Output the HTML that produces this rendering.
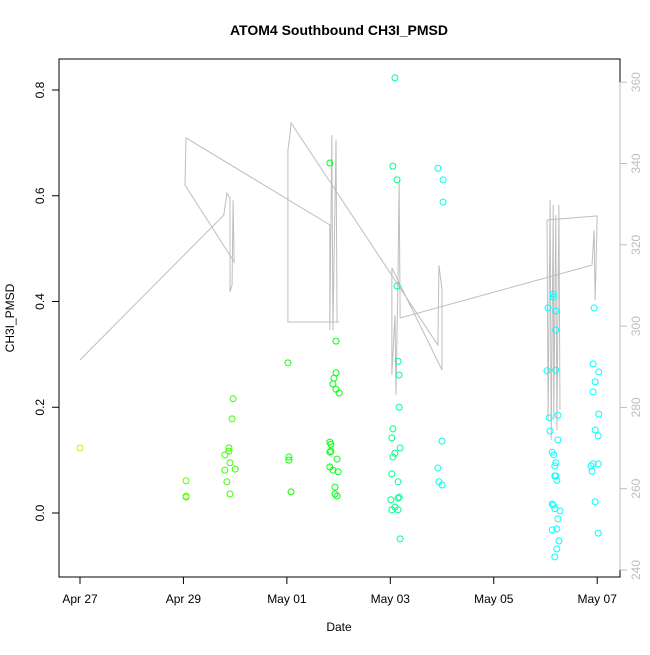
<!DOCTYPE html>
<html><head><meta charset="utf-8"><style>body{margin:0;background:#fff}svg{font-family:"Liberation Sans",sans-serif}</style></head>
<body>
<svg id="chart" width="650" height="650" viewBox="0 0 650 650">
<rect width="650" height="650" fill="#fff"/>
<text x="339" y="35" text-anchor="middle" font-weight="bold" font-size="14">ATOM4 Southbound CH3I_PMSD</text>
<text x="339" y="631" text-anchor="middle" font-size="12">Date</text>
<text transform="translate(14,318) rotate(-90)" text-anchor="middle" font-size="12">CH3I_PMSD</text>
<rect x="59" y="59" width="561" height="518" fill="none" stroke="#000"/>
<g id="lineG"></g>
<g id="ptsG"></g>
<g id="axes"></g>
</svg>
<script>
const xTickLabels=["Apr 27","Apr 29","May 01","May 03","May 05","May 07"];
const xTickDays=[0,2,4,6,8,10];
const yTicks=[0,0.2,0.4,0.6,0.8];
const y2Ticks=[240,260,280,300,320,340,360];
const pointDays=[0,2.05,2.05,2.05,2.96,2.94,2.80,2.88,2.88,2.90,2.80,3.00,2.84,2.90,4.02,4.04,4.04,4.08,
4.83,4.95,4.95,4.91,4.89,4.95,5.01,4.83,4.85,4.83,4.85,4.97,4.83,4.89,4.99,4.93,4.93,4.97,
6.09,6.05,6.13,6.13,6.15,6.17,6.17,6.05,6.03,6.19,6.09,6.05,6.03,6.15,6.17,6.15,6.01,6.09,6.03,6.15,6.19,
6.92,7.02,7.02,7.00,6.92,6.94,7.00,
9.15,9.15,9.05,9.20,9.20,9.03,9.20,9.07,9.09,9.24,9.24,9.13,9.16,9.20,9.18,9.18,9.20,9.22,9.13,9.15,9.18,9.28,9.24,9.13,9.22,9.26,9.22,9.18,
9.94,9.92,10.03,9.96,9.92,10.03,9.96,10.02,9.92,9.88,10.02,9.90,9.96,10.02];
const pointValues=[0.123,0.061,0.032,0.030,0.216,0.178,0.110,0.123,0.117,0.095,0.081,0.083,0.059,0.036,0.284,0.106,0.100,0.040,
0.662,0.325,0.265,0.255,0.244,0.234,0.227,0.134,0.130,0.115,0.117,0.102,0.087,0.081,0.078,0.049,0.036,0.032,
0.823,0.656,0.630,0.429,0.287,0.261,0.200,0.159,0.142,0.123,0.113,0.106,0.074,0.059,0.030,0.028,0.025,0.011,0.006,0.006,-0.049,
0.652,0.630,0.588,0.136,0.085,0.059,0.053,
0.414,0.408,0.388,0.382,0.346,0.269,0.270,0.180,0.155,0.185,0.138,0.115,0.110,0.095,0.089,0.070,0.070,0.062,0.017,0.015,0.008,0.004,-0.011,-0.032,-0.030,-0.053,-0.068,-0.083,
0.388,0.282,0.267,0.248,0.229,0.187,0.157,0.146,0.093,0.089,0.093,0.079,0.021,-0.038];
const lineDays=[0,2.78,2.84,2.90,2.90,2.94,2.96,2.98,2.03,2.05,4.83,4.83,4.87,4.89,4.95,4.97,5.01,4.02,4.02,4.06,4.08,6.92,6.94,7.00,7.00,6.03,6.03,6.09,6.11,6.15,6.17,6.19,9.90,9.94,9.96,10.00,9.03,9.05,9.09,9.11,9.15,9.16,9.20,9.22,9.26,9.28];
const lineValues=[291.7,327.3,332.7,331.5,308.4,310.1,331.0,315.8,334.7,346.3,324.9,299.0,347.0,299.0,345.8,301.0,301.0,301.0,343.3,347.0,350.0,295.3,315.0,308.9,289.2,314.3,288.0,302.7,283.1,313.8,335.9,302.0,315.0,323.6,306.4,327.1,326.1,276.9,331.0,272.0,329.8,276.9,327.3,274.4,329.8,279.4];
const NS="http://www.w3.org/2000/svg";
const xs=d=>80+d*51.72, ys=v=>513-v*528.75, y2s=v=>570-(v-240)*4.065;
const hue=d=>d<5?80+9*d:Math.min(180,125+25*(d-5));
function mk(t,a,p){const e=document.createElementNS(NS,t);for(const k in a)e.setAttribute(k,a[k]);p.appendChild(e);return e;}
const lg=document.getElementById('lineG');
const pl=mk('polyline',{points:lineDays.map((d,i)=>xs(d)+','+y2s(lineValues[i])).join(' '),fill:'none',stroke:'#bebebe','stroke-width':1},lg);


const pg=document.getElementById('ptsG');
pointDays.forEach((d,i)=>{const c=mk('circle',{cx:xs(d),cy:ys(pointValues[i]),r:3,fill:'none',stroke:'hsl('+hue(d)+',100%,50%)','stroke-width':1},pg);

});
const ax=document.getElementById('axes');
mk('line',{x1:xs(0),x2:xs(10),y1:577,y2:577,stroke:'#000'},ax);
xTickDays.forEach((d,i)=>{mk('line',{x1:xs(d),x2:xs(d),y1:577,y2:584,stroke:'#000'},ax);
const t=mk('text',{x:xs(d),y:603,'text-anchor':'middle','font-size':12},ax);t.textContent=xTickLabels[i];

});
mk('line',{x1:59,x2:59,y1:ys(0),y2:ys(0.8),stroke:'#000'},ax);
yTicks.forEach(v=>{mk('line',{x1:52,x2:59,y1:ys(v),y2:ys(v),stroke:'#000'},ax);
const t=mk('text',{transform:'translate(44,'+ys(v)+') rotate(-90)','text-anchor':'middle','font-size':12},ax);t.textContent=v.toFixed(1);

});
mk('line',{x1:620,x2:620,y1:y2s(240),y2:y2s(360),stroke:'#bebebe'},ax);
y2Ticks.forEach(v=>{mk('line',{x1:620,x2:627,y1:y2s(v),y2:y2s(v),stroke:'#bebebe'},ax);
const t=mk('text',{transform:'translate(640,'+y2s(v)+') rotate(-90)','text-anchor':'middle','font-size':12,fill:'#bebebe'},ax);t.textContent=v;

});
</script>
</body></html>
